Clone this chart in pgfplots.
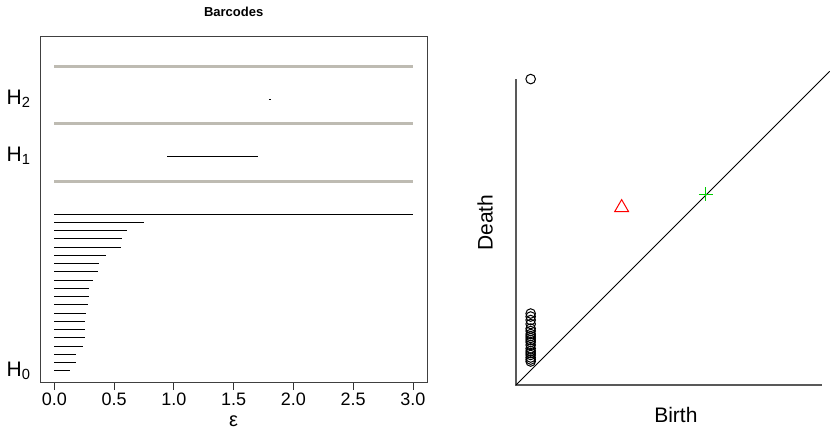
\documentclass[border=0pt]{standalone}
\usepackage{fontspec}
\setmainfont{Liberation Sans}
\usepackage{pgfplots}
\pgfplotsset{compat=1.18}
\definecolor{sepgray}{RGB}{190,187,178}
\definecolor{rgreen}{RGB}{0,205,0}
\definecolor{rred}{RGB}{255,0,0}
\begin{document}
\begin{tikzpicture}[x=1pt,y=1pt]
\path[use as bounding box] (0,0) rectangle (830,439);
% ---------------- Barcodes ----------------
\begin{axis}[
  at={(40pt,56.3pt)}, anchor=south west,
  scale only axis, width=387.3pt, height=346pt,
  xmin=-0.12, xmax=3.12, ymin=36.7, ymax=382.7, y dir=reverse,
  axis line style={black!75, line width=0.9pt},
  xtick={0,0.5,1,1.5,2,2.5,3},
  xticklabels={0.0,0.5,1.0,1.5,2.0,2.5,3.0},
  xtick pos=bottom, ytick pos=left, tick align=outside,
  major tick length=7pt,
  xtick style={black!80, line width=0.8pt},
  ytick={99,156,370.7},
  yticklabels={H\textsubscript{2},H\textsubscript{1},H\textsubscript{0}},
  ytick style={draw=none},
  xticklabel style={font=\fontsize{18}{21}\selectfont},
  yticklabel style={font=\fontsize{21}{25}\selectfont, xshift=1pt},
  clip=false,
  unbounded coords=jump,
]
% separators
\addplot[sepgray, line width=3pt] coordinates {(0,66)(3,66) (nan,nan) (0,123.5)(3,123.5) (nan,nan) (0,181)(3,181)};
% H2
\addplot[black, line width=1pt] coordinates {(1.795,99)(1.812,99)};
% H1
\addplot[black, line width=1pt] coordinates {(0.945,156.7)(1.701,156.7)};
% H0
\addplot[black, line width=1pt] coordinates {
(0,214.3)(3,214.3) (nan,nan)
(0,222.3)(0.752,222.3) (nan,nan)
(0,230.7)(0.608,230.7) (nan,nan)
(0,238.7)(0.566,238.7) (nan,nan)
(0,247)(0.555,247) (nan,nan)
(0,255.3)(0.429,255.3) (nan,nan)
(0,263.3)(0.371,263.3) (nan,nan)
(0,271.7)(0.362,271.7) (nan,nan)
(0,280)(0.323,280) (nan,nan)
(0,288.3)(0.290,288.3) (nan,nan)
(0,296.3)(0.287,296.3) (nan,nan)
(0,304.7)(0.279,304.7) (nan,nan)
(0,313)(0.264,313) (nan,nan)
(0,321.3)(0.256,321.3) (nan,nan)
(0,329.3)(0.256,329.3) (nan,nan)
(0,337.7)(0.254,337.7) (nan,nan)
(0,346)(0.237,346) (nan,nan)
(0,354)(0.181,354) (nan,nan)
(0,362.3)(0.181,362.3) (nan,nan)
(0,370.7)(0.133,370.7)
};
\node[font=\fontsize{13}{15}\selectfont\bfseries] at (axis cs:1.5,12) {Barcodes};
\node[font=\fontsize{20}{23}\selectfont] at (axis cs:1.5,421) {ε};
\end{axis}
% ---------------- Persistence diagram ----------------
\begin{axis}[
  at={(516pt,54pt)}, anchor=south west,
  scale only axis, width=313.7pt, height=313.7pt,
  xmin=-0.151, xmax=3.08, ymin=-0.151, ymax=3.08,
  axis lines=none, clip=false,
]
\addplot[black!65, line width=1.1pt] coordinates {(-0.151,3.0)(-0.151,-0.151)(3.0,-0.151)};
\addplot[black, line width=0.9pt] coordinates {(-0.151,-0.151)(3.08,3.08)};
\addplot[only marks, mark=o, mark size=4.8pt, mark options={line width=1pt, black}] coordinates {
(0,3.0)
(0,0.585)(0,0.554)(0,0.518)(0,0.477)(0,0.430)(0,0.405)(0,0.374)(0,0.353)(0,0.333)
(0,0.312)(0,0.291)(0,0.261)(0,0.225)(0,0.199)(0,0.178)(0,0.158)(0,0.132)(0,0.111)(0,0.091)
};
\addplot[only marks, mark=triangle, mark size=8pt, mark options={line width=1pt, rred}] coordinates {(0.937,1.676)};
\addplot[only marks, mark=+, mark size=7pt, mark options={line width=1.1pt, rgreen}] coordinates {(1.805,1.813)};
\node[font=\fontsize{21}{24}\selectfont] at (axis cs:1.496,-0.46) {Birth};
\node[font=\fontsize{21}{24}\selectfont, rotate=90] at (axis cs:-0.47,1.522) {Death};
\end{axis}
\end{tikzpicture}
\end{document}
